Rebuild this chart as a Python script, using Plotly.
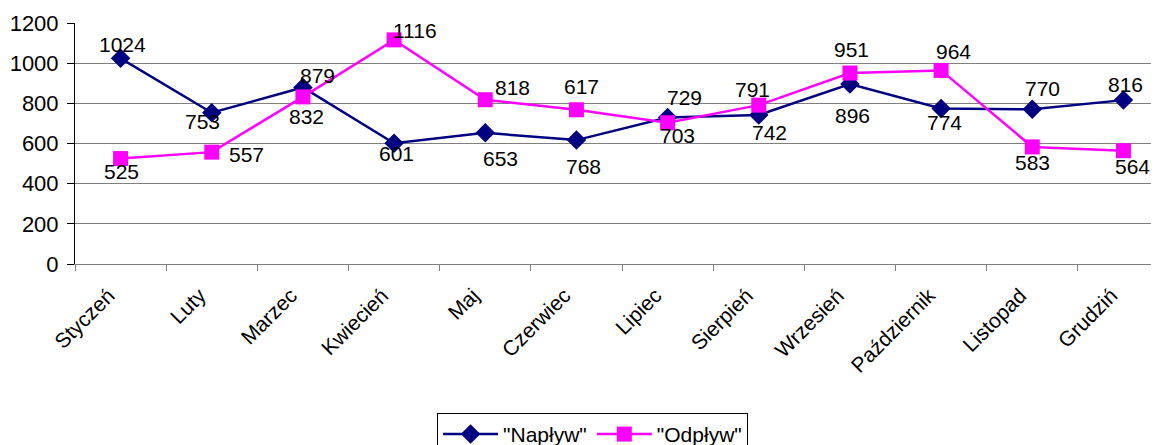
import plotly.graph_objects as go

months = ["Styczeń", "Luty", "Marzec", "Kwiecień", "Maj", "Czerwiec",
          "Lipiec", "Sierpień", "Wrzesień", "Październik", "Listopad", "Grudziń"]
naplyw = [1024, 753, 879, 601, 653, 617, 729, 742, 896, 774, 770, 816]
odplyw = [525, 557, 832, 1116, 818, 768, 703, 791, 951, 964, 583, 564]
y_ticks = [0, 200, 400, 600, 800, 1000, 1200]

# label offsets in pixels (dx right, dy down) relative to each point
nap_off = [(2, -14), (-9, 9), (15, -12), (2, 10), (15, 26), (5, -54),
           (17, -20), (11, 18), (3, 31), (3, 14), (10, -21), (2, -16)]
odp_off = [(1, 13), (35, 2), (4, 20), (21, -9), (27, -12), (7, 57),
           (10, 13), (-6, -16), (2, -24), (12, -19), (0, 16), (9, 16)]

FONT = "Liberation Sans, Arial, sans-serif"
FS = 21
NAVY = "#000080"
MAG = "#FF00FF"

fig = go.Figure()
fig.add_trace(go.Scatter(
    x=months, y=naplyw, mode="lines+markers", name='"Napływ"',
    line=dict(color=NAVY, width=2.5),
    marker=dict(symbol="diamond", size=15, color=NAVY)))
fig.add_trace(go.Scatter(
    x=months, y=odplyw, mode="lines+markers", name='"Odpływ"',
    line=dict(color=MAG, width=2.5),
    marker=dict(symbol="square", size=15, color=MAG)))

anns = []
for vals, offs in ((naplyw, nap_off), (odplyw, odp_off)):
    for m, v, (dx, dy) in zip(months, vals, offs):
        anns.append(dict(x=m, y=v, text=str(v), showarrow=False,
                         xshift=dx, yshift=-dy,
                         font=dict(family=FONT, size=FS, color="black")))

# page body adds an 8px margin; figure sized to fill the 1159x445 window
fig.update_layout(
    width=1151, height=437,
    margin=dict(l=67, r=0, t=15, b=181, pad=0, autoexpand=False),
    paper_bgcolor="white", plot_bgcolor="white",
    font=dict(family=FONT, size=FS, color="black"),
    annotations=anns,
    showlegend=True,
    legend=dict(orientation="h", x=0.334, xanchor="left", y=-0.618, yanchor="top",
                bordercolor="black", borderwidth=1, bgcolor="white",
                font=dict(family=FONT, size=FS, color="black"),
                itemwidth=55, tracegroupgap=0),
)
fig.update_xaxes(
    type="category", range=[-0.5, 11.39], automargin=False,
    tickangle=-45, ticks="outside", tickson="boundaries", ticklen=6,
    tickcolor="#808080", showline=True, linecolor="#808080", linewidth=1,
    showgrid=False, ticklabelstandoff=10, ticklabelshift=-12,
    tickfont=dict(family=FONT, size=FS, color="black"))
fig.update_yaxes(
    range=[0, 1200], tickvals=y_ticks, ticks="outside", ticklen=7, automargin=False,
    tickcolor="black", showline=True, linecolor="black", linewidth=1,
    showgrid=True, gridcolor="#808080", gridwidth=1, zeroline=False,
    ticklabelstandoff=4,
    tickfont=dict(family=FONT, size=22, color="black"))

fig.write_html("out.html")
